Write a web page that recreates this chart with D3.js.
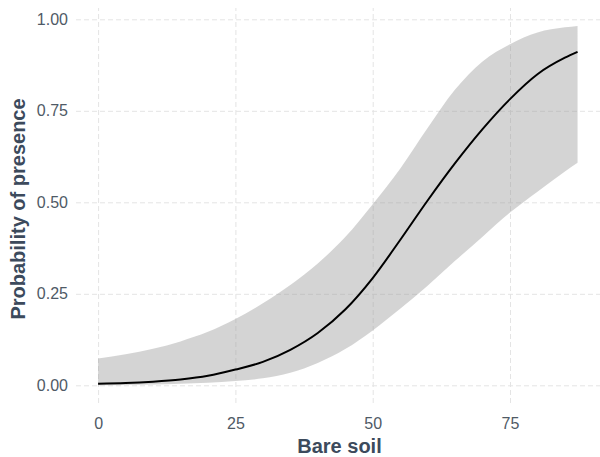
<!DOCTYPE html>
<html>
  <head>
    <script src="https://cdn.jsdelivr.net/npm/d3@7"></script>
    <style>
      body { margin: 0; background: #fff; }
      text { font-family: "Liberation Sans", Arial, sans-serif; }
    </style>
  </head>
  <body>
    <svg width="600" height="457"></svg>
    <script>
      // bare soil cover (%) and predicted probability of presence with CI
      var bareSoil = [0, 5, 10, 15, 20, 25, 30, 35, 40, 45, 50, 55, 60, 65, 70, 75, 80, 85, 87.3];
      var meanProb = [0.004, 0.006, 0.010, 0.016, 0.026, 0.043, 0.064, 0.097, 0.143, 0.207, 0.293, 0.397, 0.505, 0.607, 0.700, 0.782, 0.850, 0.895, 0.911];
      var upperCI = [0.073, 0.085, 0.100, 0.120, 0.146, 0.181, 0.224, 0.274, 0.333, 0.405, 0.495, 0.592, 0.703, 0.808, 0.885, 0.932, 0.964, 0.978, 0.982];
      var lowerCI = [0.000, 0.001, 0.002, 0.004, 0.007, 0.012, 0.019, 0.034, 0.061, 0.099, 0.150, 0.209, 0.272, 0.340, 0.406, 0.472, 0.529, 0.584, 0.608];

      var xTicks = [0, 25, 50, 75];
      var yTicks = [0, 0.25, 0.5, 0.75, 1];

      var svg = d3.select("svg");

      var panel = { left: 76, right: 600, top: 8, bottom: 403 };

      var x = d3.scaleLinear().domain([0, 75]).range([98.1, 510]);
      var y = d3.scaleLinear().domain([0, 1]).range([385.3, 19.3]);

      var data = bareSoil.map((d, i) => {
        return { x: d, mean: meanProb[i], lo: lowerCI[i], hi: upperCI[i] };
      });

      // grid
      svg.append("g")
        .attr("class", "grid")
        .attr("transform", "translate(0," + panel.bottom + ")")
        .call(d3.axisBottom(x).tickValues(xTicks).tickSize(-(panel.bottom - panel.top)).tickFormat(""));
      svg.append("g")
        .attr("class", "grid")
        .attr("transform", "translate(" + panel.left + ",0)")
        .call(d3.axisLeft(y).tickValues(yTicks).tickSize(-(panel.right - panel.left)).tickFormat(""));
      svg.selectAll(".grid .domain").remove();
      svg.selectAll(".grid line")
        .attr("stroke", "#e4e4e4")
        .attr("stroke-width", 1)
        .attr("stroke-dasharray", "5,3");

      // ribbon
      var area = d3.area()
        .x((d) => x(d.x))
        .y0((d) => y(d.lo))
        .y1((d) => y(d.hi))
        .curve(d3.curveMonotoneX);
      svg.append("path")
        .attr("d", area(data))
        .attr("fill", "#999999")
        .attr("fill-opacity", 0.42);

      // fitted line
      var line = d3.line()
        .x((d) => x(d.x))
        .y((d) => y(d.mean))
        .curve(d3.curveMonotoneX);
      svg.append("path")
        .attr("d", line(data))
        .attr("fill", "none")
        .attr("stroke", "#000")
        .attr("stroke-width", 2);

      // tick labels
      var yAxis = svg.append("g")
        .attr("transform", "translate(" + panel.left + ",0)")
        .call(d3.axisLeft(y).tickValues(yTicks).tickFormat(d3.format(".2f")).tickSize(0).tickPadding(8));
      var xAxis = svg.append("g")
        .attr("transform", "translate(0," + panel.bottom + ")")
        .call(d3.axisBottom(x).tickValues(xTicks).tickSize(0).tickPadding(15));
      [xAxis, yAxis].forEach((g) => {
        g.select(".domain").remove();
        g.selectAll("text")
          .attr("fill", "#4f5a66")
          .style("font-size", "16px")
          .style("font-family", "'Liberation Sans', Arial, sans-serif");
      });

      // axis titles
      svg.append("text")
        .attr("x", 339.5)
        .attr("y", 453)
        .attr("text-anchor", "middle")
        .attr("fill", "#3c4a5c")
        .style("font-size", "20px")
        .style("font-weight", "bold")
        .text("Bare soil");

      svg.append("text")
        .attr("transform", "translate(25,209) rotate(-90)")
        .attr("text-anchor", "middle")
        .attr("fill", "#3c4a5c")
        .style("font-size", "20px")
        .style("font-weight", "bold")
        .text("Probability of presence");
    </script>
  </body>
</html>
